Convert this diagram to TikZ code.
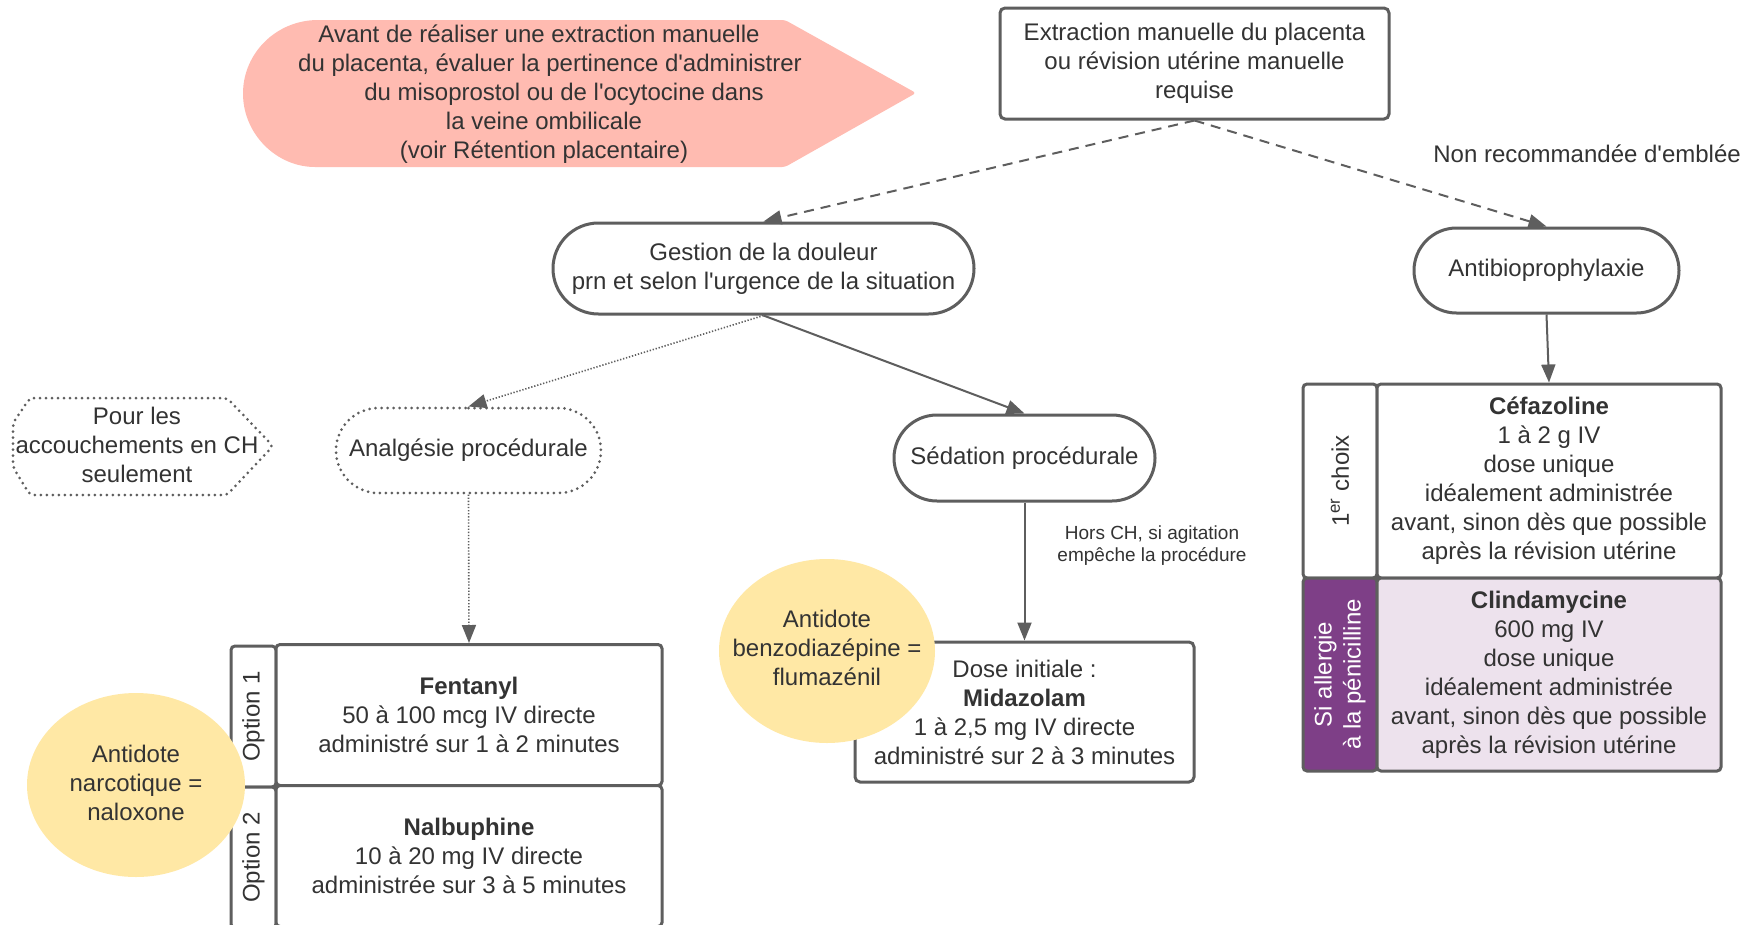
\documentclass[tikz,border=0pt]{standalone}
\usepackage{fontspec}
\setmainfont{Liberation Sans}[Ligatures=TeXOff]
\usetikzlibrary{shapes.misc,shapes.geometric,arrows.meta}
\definecolor{linec}{HTML}{5E5E5E}
\definecolor{txtc}{HTML}{333333}
\definecolor{pinkc}{HTML}{FFBBB1}
\definecolor{yellc}{HTML}{FFE8A5}
\definecolor{purpc}{HTML}{7E3F87}
\definecolor{lavc}{HTML}{EDE2ED}
\begin{document}
\begin{tikzpicture}[x=1pt,y=-1pt,
 every node/.style={text=txtc, font=\fontsize{24}{29}\selectfont, align=center, inner sep=0pt},
 box/.style={draw=linec, line width=3pt, rounded corners=5pt, fill=white},
 pill/.style={rounded rectangle, draw=linec, line width=3pt, fill=white},
 dotline/.style={draw=linec, line width=3pt, dash pattern=on 0pt off 6pt, line cap=round},
 dotpill/.style={rounded rectangle, dotline},
 cell/.style={draw=linec, line width=3pt, rounded corners=4pt},
 arr/.style={draw=linec, line width=2pt, -{Triangle[length=18pt,width=14pt]}},
 dasharr/.style={arr, dash pattern=on 10pt off 7pt},
 dotarr/.style={arr, line width=1.6pt, dash pattern=on 1.3pt off 1.8pt},
 small/.style={font=\fontsize{19}{22}\selectfont}
]
\useasboundingbox (0,0) rectangle (1745,924);
\clip (0,0) rectangle (1745,924);
\fill[white] (0,0) rectangle (1745,924);

% pink note
\fill[pinkc, rounded corners=3pt] (318,20) -- (785,20) -- (916,93) -- (785,167) -- (318,167)
  [sharp corners] arc[start angle=90, end angle=270, x radius=75, y radius=73.5] -- cycle;
\node (note) at (544,94) {Avant de réaliser une extraction manuelle\hspace*{10pt}\\\hspace*{12pt}du placenta, évaluer la pertinence d'administrer\\\hspace*{40pt}du misoprostol ou de l'ocytocine dans\\la veine ombilicale\\(voir Rétention placentaire)};

% top box
\node[box, minimum width=389pt, minimum height=111pt] (extr) at (1194.5,63.5)
  {Extraction manuelle du placenta\\ou révision utérine manuelle\\requise};
\node[anchor=east] (nonrec) at (1741,154) {Non recommandée d'emblée};

% second level
\node[pill, minimum width=421pt, minimum height=91pt] (gest) at (763.5,268.5)
  {Gestion de la douleur\\prn et selon l'urgence de la situation};
\node[pill, minimum width=265pt, minimum height=85pt] (anti) at (1546.5,270.5) {Antibioprophylaxie};

% hexagon note
\draw[dotline, rounded corners=4pt] (30,398) -- (227,398) -- (273,446) -- (227,495) -- (30,495) -- (13,467) -- (13,423) -- cycle;
\node (pour) at (137,445) {Pour les\\accouchements en CH\\seulement};

% third level
\node[dotpill, minimum width=265pt, minimum height=85pt] (analg) at (468.5,450.5) {Analgésie procédurale};
\node[pill, minimum width=261pt, minimum height=86pt] (sed) at (1024.5,458) {Sédation procédurale};
\node[small] (hors) at (1152,546) {Hors CH, si agitation\\empêche la procédure};

% Fentanyl / Nalbuphine table
\node[cell, fill=white, minimum width=141pt, minimum height=45pt, rotate=90] (opt1) at (253.5,716.5) {Option 1};
\node[cell, fill=white, minimum width=386pt, minimum height=141pt] (fen) at (469,715)
  {\textbf{Fentanyl}\\50 à 100 mcg IV directe\\administré sur 1 à 2 minutes};
\node[cell, fill=white, minimum width=141pt, minimum height=45pt, rotate=90] (opt2) at (253.5,857.5) {Option 2};
\node[cell, fill=white, minimum width=386pt, minimum height=141pt] (nal) at (469,856)
  {\textbf{Nalbuphine}\\10 à 20 mg IV directe\\administrée sur 3 à 5 minutes};

% Midazolam
\node[box, minimum width=339pt, minimum height=140pt] (mid) at (1024.5,712)
  {Dose initiale :\\\textbf{Midazolam}\\1 à 2,5 mg IV directe\\administré sur 2 à 3 minutes};

% antidotes
\fill[yellc] (136,785) ellipse [x radius=109, y radius=92];
\node (naltx) at (136,783) {Antidote\\narcotique =\\naloxone};
\fill[yellc] (827,651) ellipse [x radius=108, y radius=92];
\node (flu) at (827,648) {Antidote\\benzodiazépine =\\flumazénil};

% antibiotic table
\node[cell, fill=white, minimum width=194pt, minimum height=74pt, rotate=90] (choix) at (1340,481) {1\textsuperscript{er} choix};
\node[cell, fill=white, minimum width=344pt, minimum height=194pt] (cefa) at (1549,481)
  {\textbf{Céfazoline}\\1 à 2 g IV\\dose unique\\idéalement administrée\\avant, sinon dès que possible\\après la révision utérine};
\node[cell, fill=purpc, text=white, minimum width=193pt, minimum height=74pt, rotate=90] (allerg) at (1340,674.5) {Si allergie\\à la pénicilline};
\node[cell, fill=lavc, minimum width=344pt, minimum height=193pt] (clin) at (1549,674.5)
  {\textbf{Clindamycine}\\600 mg IV\\dose unique\\idéalement administrée\\avant, sinon dès que possible\\après la révision utérine};

% connectors
\draw[dasharr] (extr.south) -- (gest.north);
\draw[dasharr] (extr.south) -- (anti.north);
\draw[dotarr] (gest.south) -- (analg.north);
\draw[arr] (gest.south) -- (sed.north);
\draw[dotarr] (analg.south) -- (fen.north);
\draw[arr] (sed.south) -- (mid.north);
\draw[arr] (anti.south) -- (cefa.north);
\end{tikzpicture}
\end{document}
